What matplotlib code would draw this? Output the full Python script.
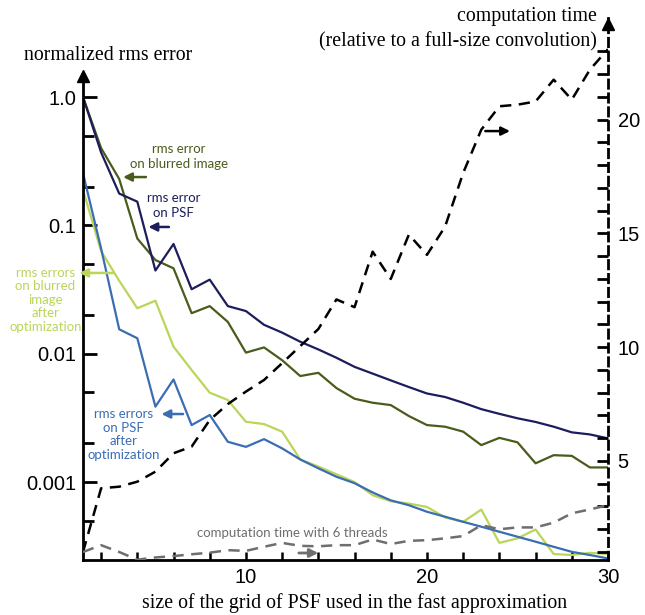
import numpy as np
import matplotlib
matplotlib.use("Agg")
import matplotlib.pyplot as plt

# grid size of the PSF approximation
n = np.arange(1, 31)

# normalized rms errors (left, log axis)
err_psf = [1.0, 0.37, 0.177, 0.153, 0.0445, 0.0716, 0.0318, 0.0378, 0.0235, 0.0215,
           0.0168, 0.0146, 0.0124, 0.0108, 0.0093, 0.0079, 0.0070, 0.0062, 0.0055, 0.0049,
           0.0046, 0.00415, 0.0037, 0.0034, 0.00314, 0.00294, 0.0027, 0.00244, 0.00235, 0.00219]
err_img = [1.0, 0.40, 0.23, 0.079, 0.0537, 0.0463, 0.0207, 0.0235, 0.0177, 0.0102,
           0.0112, 0.0089, 0.0067, 0.0071, 0.0054, 0.00446, 0.00415, 0.00398, 0.00327, 0.00278,
           0.0027, 0.00247, 0.00194, 0.00221, 0.00204, 0.0014, 0.00162, 0.0016, 0.0013, 0.0013]
err_img_opt = [0.189, 0.063, 0.037, 0.0226, 0.0259, 0.01135, 0.00747, 0.00497, 0.00436, 0.00295,
               0.00283, 0.00247, 0.0015, 0.00132, 0.00115, 0.001, 0.00079, 0.00071, 0.00068, 0.00064,
               0.00053, 0.00049, 0.00061, 0.000336, 0.000364, 0.000427, 0.000275, 0.00027, 0.000281, 0.000275]
err_psf_opt = [0.255, 0.066, 0.0155, 0.0132, 0.00387, 0.0063, 0.00278, 0.00333, 0.00206, 0.00188,
               0.00216, 0.00183, 0.0015, 0.00128, 0.0011, 0.00098, 0.00083, 0.00072, 0.00066, 0.000587,
               0.000537, 0.00049, 0.000449, 0.00041, 0.000375, 0.000343, 0.000313, 0.000286, 0.00027, 0.000254]

# computation time relative to full-size convolution (right axis)
time_1 = [1.0, 3.8, 3.87, 4.09, 4.53, 5.34, 5.63, 6.8, 7.5, 8.05,
          8.56, 9.3, 10.05, 10.8, 12.1, 11.76, 14.2, 13.0, 14.95, 14.06,
          15.3, 17.66, 19.56, 20.59, 20.66, 20.8, 21.76, 20.88, 22.2, 23.1]
time_6 = [1.0, 1.3, 1.0, 0.66, 0.76, 0.82, 0.9, 0.97, 1.08, 1.05,
          1.23, 1.4, 1.27, 1.25, 1.3, 1.3, 1.55, 1.35, 1.49, 1.52,
          1.6, 1.7, 2.18, 2.0, 2.08, 2.08, 2.29, 2.7, 2.87, 3.06]

NAVY = "#1c1d5c"
OLIVE = "#4a5c1c"
LIGHT = "#b9d65a"
BLUE = "#3b6db3"
GRAY = "#6e6e6e"

SANS = ["Liberation Sans", "DejaVu Sans"]
SERIF = ["Liberation Serif", "DejaVu Serif"]
NOTE = ["Lato", "DejaVu Sans"]

W, H = 645, 615
fig = plt.figure(figsize=(W / 100, H / 100), dpi=100)
ax = fig.add_axes([83 / W, 55 / H, (608 - 83) / W, (560 - 18) / H])
ax2 = ax.twinx()

ylo, yhi = 2.47e-4, 4.13
ax.set_yscale("log")
ax.set_xlim(1, 30)
ax.set_ylim(ylo, yhi)
ax2.set_ylim(0.648, 24.47)

lw = 1.6
ax.plot(n, err_img, color=OLIVE, lw=lw)
ax.plot(n, err_psf, color=NAVY, lw=lw)
ax.plot(n, err_img_opt, color=LIGHT, lw=lw)
ax.plot(n, err_psf_opt, color=BLUE, lw=lw)
ax2.plot(n, time_1, color="black", lw=1.8, ls=(0, (4.5, 3)))
ax2.plot(n, time_6, color=GRAY, lw=1.8, ls=(0, (4.5, 3)))

# spines
for s in ["top", "right"]:
    ax.spines[s].set_visible(False)
for s in ["top", "left", "bottom"]:
    ax2.spines[s].set_visible(False)
ax.spines["left"].set_linewidth(2)
ax.spines["bottom"].set_linewidth(2)
ax.spines["left"].set_bounds(ylo, 1.45)
ax2.spines["right"].set_linewidth(2)
ax2.spines["right"].set_linestyle((0, (3, 2)))
ax.plot(0, 1.45, marker="^", ms=9, color="black", transform=ax.get_yaxis_transform(), clip_on=False)
ax2.plot(1, 24.2, marker="^", ms=9, color="black", transform=ax2.get_yaxis_transform(), clip_on=False)

# ticks
ax.set_xticks(np.arange(2, 31, 2))
ax.set_xticklabels(["" if v % 10 else str(v) for v in range(2, 31, 2)])
ax.tick_params(axis="x", direction="in", length=6, width=1.8, pad=6, labelsize=14.5)
ax.set_yticks([1.0, 0.1, 0.01, 0.001])
ax.set_yticklabels(["1.0", "0.1", "0.01", "0.001"])
ax.set_yticks([0.5, 0.2, 0.05, 0.02, 0.005, 0.002, 0.0005], minor=True)
ax.yaxis.set_minor_formatter(matplotlib.ticker.NullFormatter())
ax.tick_params(axis="y", which="major", direction="in", length=10, width=2, pad=5, labelsize=14.5)
ax.tick_params(axis="y", which="minor", direction="in", length=8, width=2)
ax2.set_yticks(np.arange(1, 24))
ax2.set_yticklabels([str(v) if v % 5 == 0 else "" for v in range(1, 24)])
ax2.tick_params(axis="y", direction="in", length=8, width=2, pad=7, labelsize=14.5)
for lab in ax.get_xticklabels() + ax.get_yticklabels() + ax2.get_yticklabels():
    lab.set_family(SANS)

# axis titles
tfs = 14.3
fig.text(108 / W, 1 - 56 / H, "normalized rms error", family=SERIF, fontsize=tfs,
         ha="center", va="center")
fig.text(597 / W, 1 - 17 / H, "computation time", family=SERIF, fontsize=tfs,
         ha="right", va="center")
fig.text(597 / W, 1 - 42 / H, "(relative to a full-size convolution)", family=SERIF,
         fontsize=tfs, ha="right", va="center")
fig.text(355 / W, 1 - 603 / H, "size of the grid of PSF used in the fast approximation",
         family=SERIF, fontsize=tfs, ha="center", va="center")

# annotations
fs = 9.5
ax.text(6.29, 0.347, "rms error\non blurred image", color=OLIVE, family=NOTE, fontsize=fs,
        ha="center", va="center", linespacing=1.3)
ax.annotate("", xy=(3.06, 0.238), xytext=(4.63, 0.238),
            arrowprops=dict(arrowstyle="-|>,head_length=0.5,head_width=0.25", color=OLIVE, lw=1.8))
ax.text(6.01, 0.1416, "rms error\non PSF", color=NAVY, family=NOTE, fontsize=fs,
        ha="center", va="center", linespacing=1.3)
ax.annotate("", xy=(4.46, 0.0972), xytext=(5.9, 0.0972),
            arrowprops=dict(arrowstyle="-|>,head_length=0.5,head_width=0.25", color=NAVY, lw=1.8))
ax.text(-1.08, 0.0264, "rms errors\non blurred\nimage\nafter\noptimization", color=LIGHT,
        family=NOTE, fontsize=fs, ha="center", va="center", linespacing=1.15, clip_on=False)
ax.annotate("", xy=(0.64, 0.0426), xytext=(2.8, 0.0426), annotation_clip=False,
            arrowprops=dict(arrowstyle="-|>,head_length=0.5,head_width=0.25", color=LIGHT, lw=1.8))
ax.text(3.24, 0.00234, "rms errors\non PSF\nafter\noptimization", color=BLUE, family=NOTE,
        fontsize=fs, ha="center", va="center", linespacing=1.15)
ax.annotate("", xy=(5.18, 0.00339), xytext=(6.68, 0.00339),
            arrowprops=dict(arrowstyle="-|>,head_length=0.5,head_width=0.25", color=BLUE, lw=1.8))
ax2.text(12.58, 1.835, "computation time with 6 threads", color=GRAY, family=NOTE,
         fontsize=fs, ha="center", va="center")
ax2.annotate("", xy=(14.15, 0.956), xytext=(12.77, 0.956),
             arrowprops=dict(arrowstyle="-|>,head_length=0.5,head_width=0.25", color=GRAY, lw=2))
ax2.annotate("", xy=(24.74, 19.5), xytext=(23.07, 19.5),
             arrowprops=dict(arrowstyle="-|>,head_length=0.5,head_width=0.25", color="black", lw=1.8))

fig.savefig("out.png", dpi=100)
